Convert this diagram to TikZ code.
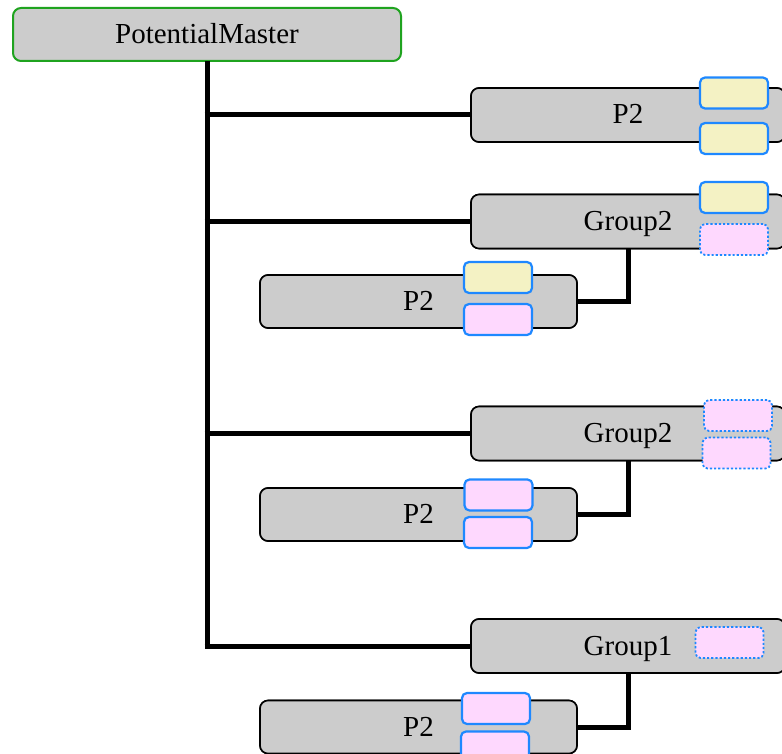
\documentclass[tikz,border=0pt]{standalone}
\usepackage{fontspec}
\setmainfont{Liberation Serif}
\begin{document}
\begin{tikzpicture}[x=1pt,y=-1pt,
  every node/.style={inner sep=0pt, outer sep=0pt},
  mainbox/.style={draw=black, line width=1.6pt, fill=boxgray, rounded corners=8pt,
    font=\fontsize{29}{34}\selectfont, text height=20pt, text depth=2pt},
  rootbox/.style={mainbox, draw=rootgreen, line width=2pt},
  wide/.style={minimum width=314pt, minimum height=54pt},
  narrow/.style={minimum width=317pt, minimum height=53pt},
  slot/.style={draw=slotblue, line width=2.2pt, rounded corners=5pt,
    minimum width=68pt, minimum height=31pt},
  fullslot/.style={slot, fill=slotyellow},
  emptyslot/.style={slot, fill=slotpink},
  dotslot/.style={slot, fill=slotpink, dotted, line width=1.8pt},
  conn/.style={line width=5pt}
]
\definecolor{boxgray}{HTML}{CCCCCC}
\definecolor{rootgreen}{HTML}{1FA31F}
\definecolor{slotblue}{HTML}{1E88FF}
\definecolor{slotyellow}{HTML}{F4F2C4}
\definecolor{slotpink}{HTML}{FED8FE}

\useasboundingbox (0,0) rectangle (782,754);
\clip (0,0) rectangle (782,754);

% root
\node[rootbox, minimum width=388pt, minimum height=53pt] (pm) at (207,34.5) {PotentialMaster};

% top-level entries
\node[mainbox, wide] (pa) at (628,115) {P2};
\node[mainbox, wide] (ga) at (628,221.5) {Group2};
\node[mainbox, wide] (gb) at (628,433.5) {Group2};
\node[mainbox, wide] (gc) at (628,646) {Group1};

% children of the groups
\node[mainbox, narrow] (ca) at (418.5,301.5) {P2};
\node[mainbox, narrow] (cb) at (418.5,514.5) {P2};
\node[mainbox, narrow] (cc) at (418.5,727) {P2};

% connectors
\draw[conn] (pm.south) -- ([yshift=2.5pt]pm.south |- gc.west);
\draw[conn] ([xshift=-2.5pt]pm.south |- pa.west) -- (pa.west);
\draw[conn] ([xshift=-2.5pt]pm.south |- ga.west) -- (ga.west);
\draw[conn] ([xshift=-2.5pt]pm.south |- gb.west) -- (gb.west);
\draw[conn] ([xshift=-2.5pt]pm.south |- gc.west) -- (gc.west);
\draw[conn] (ga.south) |- (ca.east);
\draw[conn] (gb.south) |- (cb.east);
\draw[conn] (gc.south) |- (cc.east);

% redraw boxes over the connector ends
\node[mainbox, wide] at (pa) {P2};
\node[mainbox, wide] at (ga) {Group2};
\node[mainbox, wide] at (gb) {Group2};
\node[mainbox, wide] at (gc) {Group1};
\node[mainbox, narrow] at (ca) {P2};
\node[mainbox, narrow] at (cb) {P2};
\node[mainbox, narrow] at (cc) {P2};

% slots
\node[fullslot] (pa1) at (734,93) {};
\node[fullslot] (pa2) at (734,138.5) {};
\node[fullslot] (ga1) at (734,197.5) {};
\node[dotslot] (ga2) at (734,239.5) {};
\node[fullslot] (ca1) at (498,277.5) {};
\node[emptyslot] (ca2) at (498,319.5) {};
\node[dotslot] (gb1) at (738,415.5) {};
\node[dotslot] (gb2) at (736.5,453) {};
\node[emptyslot] (cb1) at (498.5,495) {};
\node[emptyslot] (cb2) at (498,532.5) {};
\node[dotslot] (gc1) at (729.5,642.5) {};
\node[emptyslot] (cc1) at (496,708.5) {};
\node[emptyslot] (cc2) at (495,747) {};
\end{tikzpicture}
\end{document}
